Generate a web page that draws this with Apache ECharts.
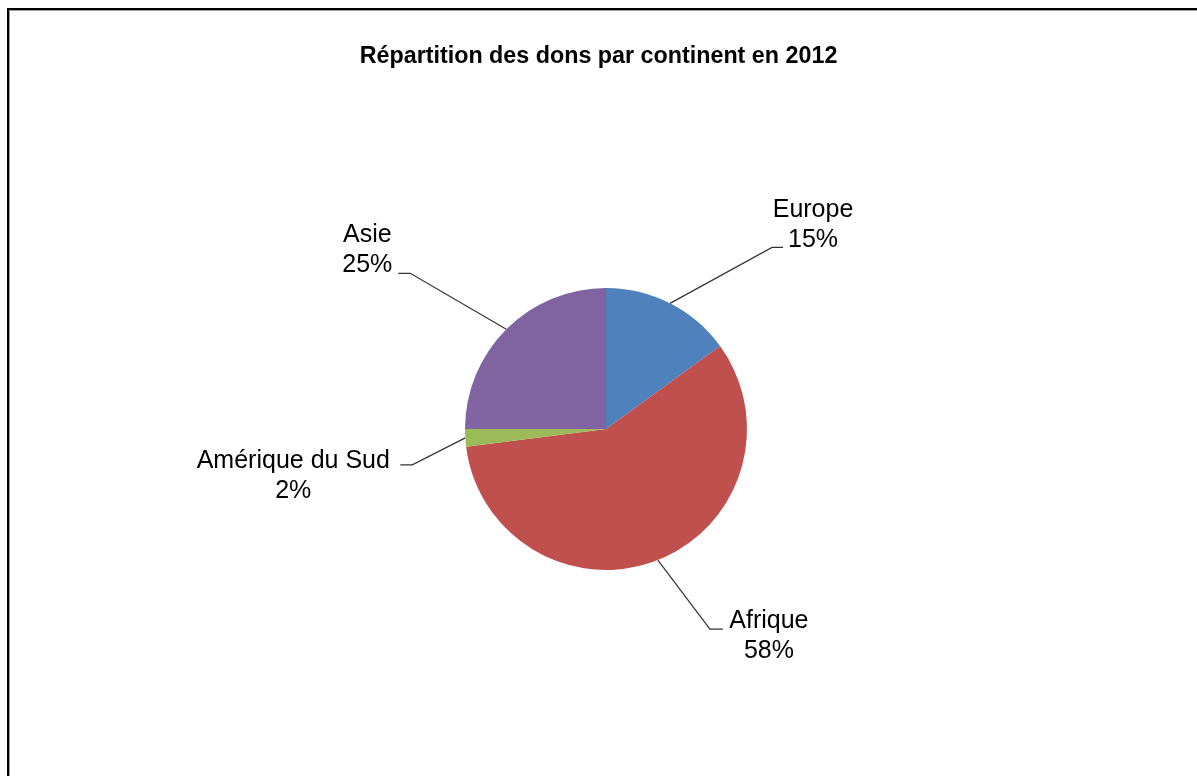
<!DOCTYPE html>
<html>
<head>
<meta charset="utf-8">
<script src="https://cdn.jsdelivr.net/npm/echarts@6/dist/echarts.min.js"></script>
<style>
html,body{margin:0;padding:0;background:#fff;}
#chart{width:1197px;height:776px;}
</style>
</head>
<body>
<div id="chart"></div>
<script>
const titleText = 'Répartition des dons par continent en 2012';
const categories = ['Europe', 'Afrique', 'Amérique du Sud', 'Asie'];
const values = [15, 58, 2, 25];
const colors = ['#4F81BD', '#C0504D', '#9BBB59', '#8064A2'];

// label placement relative to the library-computed anchor point on the slice edge
const labelOffsets = {
  'Europe':          {label: [143, -78], elbow: [102, -56], end: [113, -56]},
  'Afrique':         {label: [111, 76],  elbow: [52, 69],   end: [65, 69]},
  'Amérique du Sud': {label: [-172, 38], elbow: [-53, 27],  end: [-65, 27]},
  'Asie':            {label: [-139, -79], elbow: [-96, -56], end: [-108, -56]}
};

const chart = echarts.init(document.getElementById('chart'));
const fontFamily = '"Liberation Sans", Arial, sans-serif';

chart.setOption({
  backgroundColor: '#ffffff',
  animation: false,
  title: {
    text: titleText,
    left: 'center',
    top: 40,
    textStyle: {fontFamily: fontFamily, fontSize: 23.3, fontWeight: 'bold', color: '#000'}
  },
  graphic: [
    {type: 'rect', shape: {x: 7, y: 8, width: 1190, height: 2}, style: {fill: '#000'}, silent: true},
    {type: 'rect', shape: {x: 9, y: 10, width: 1188, height: 1}, style: {fill: '#9a9a9a'}, silent: true},
    {type: 'rect', shape: {x: 7, y: 8, width: 2, height: 768}, style: {fill: '#000'}, silent: true},
    {type: 'rect', shape: {x: 9, y: 11, width: 1, height: 765}, style: {fill: '#9a9a9a'}, silent: true}
  ],
  series: [{
    type: 'pie',
    center: [606, 429],
    radius: 141,
    startAngle: 90,
    clockwise: true,
    avoidLabelOverlap: false,
    data: categories.map((c, i) => ({name: c, value: values[i], itemStyle: {color: colors[i]}})),
    itemStyle: {borderWidth: 0},
    emphasis: {disabled: true},
    label: {
      show: true,
      position: 'outside',
      formatter: '{b}\n{d}%',
      fontFamily: fontFamily,
      fontSize: 25,
      lineHeight: 30,
      color: '#000',
      align: 'center'
    },
    labelLine: {
      show: true,
      length: 20,
      length2: 10,
      lineStyle: {color: '#333333', width: 1.2}
    },
    labelLayout: function (params) {
      const o = labelOffsets[categories[params.dataIndex]];
      if (!o || !params.labelLinePoints) { return {}; }
      const a = params.labelLinePoints[0];
      return {
        x: a[0] + o.label[0],
        y: a[1] + o.label[1],
        align: 'center',
        verticalAlign: 'middle',
        labelLinePoints: [
          [a[0], a[1]],
          [a[0] + o.elbow[0], a[1] + o.elbow[1]],
          [a[0] + o.end[0], a[1] + o.end[1]]
        ]
      };
    }
  }]
});
</script>
</body>
</html>
